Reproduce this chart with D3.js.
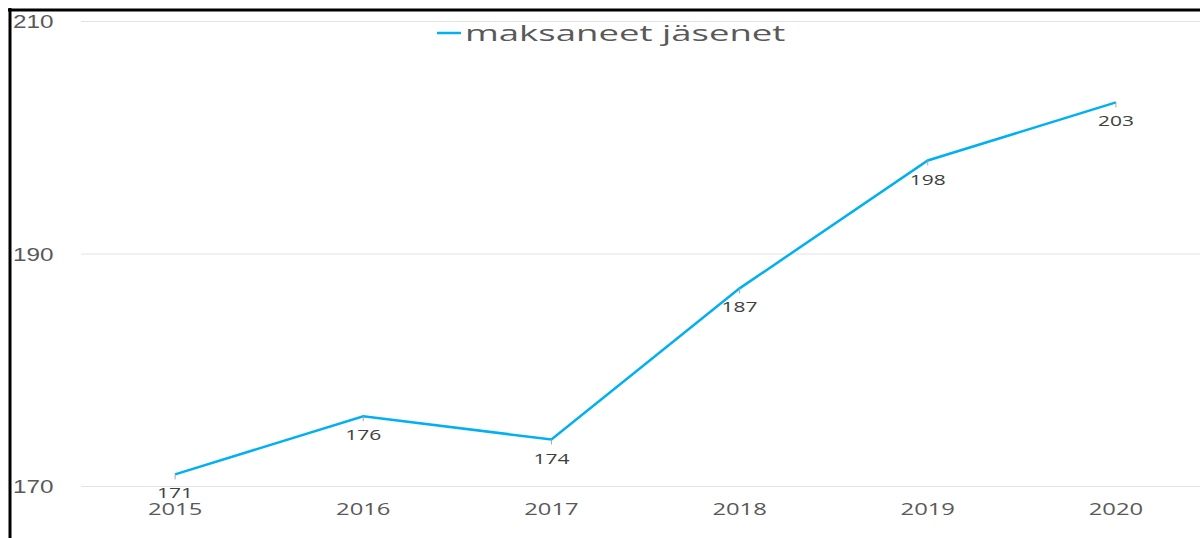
<!DOCTYPE html>
<html>
<head>
<meta charset="utf-8">
<script src="https://cdn.jsdelivr.net/npm/d3@7"></script>
<style>
  body { margin: 0; background: #fff; }
  svg { display: block; font-family: "Open Sans", sans-serif; }
</style>
</head>
<body>
<div id="container"></div>
<script>
var years = ['2015', '2016', '2017', '2018', '2019', '2020'],
    members = [171, 176, 174, 187, 198, 203],
    yTicks = [170, 190, 210],
    seriesName = 'maksaneet jäsenet';

var width = 1200,
    height = 538,
    stretch = 1.4,
    textColor = '#595959',
    lineColor = '#00b0f0';

var svg = d3.select('#container')
    .append('svg')
    .attr('width', width)
    .attr('height', height);

var x = d3.scalePoint()
    .domain(years)
    .range([81, 1210])
    .padding(0.5);

var y = d3.scaleLinear()
    .domain([170, 210])
    .range([486, 21]);

// the original picture is stretched sideways, so stretch the text too
function wide(sel, k) {
    sel.attr('transform', function() {
        var t = d3.select(this);
        return 'translate(' + t.attr('data-x') + ',' + t.attr('data-y') + ') scale(' + (k || stretch) + ',1)';
    });
}

// gridlines
var yAxis = svg.append('g')
    .attr('transform', 'translate(' + width + ',0)')
    .call(d3.axisLeft(y).tickValues(yTicks).tickSize(width - 81).tickFormat(d3.format('d')));
yAxis.select('.domain').remove();
yAxis.selectAll('.tick line').attr('stroke', '#e3e3e3').attr('stroke-width', 1);
yAxis.selectAll('.tick text')
    .attr('x', 0).attr('dy', null)
    .attr('data-x', 13 - width).attr('data-y', 6.5)
    .attr('text-anchor', 'start')
    .attr('fill', textColor)
    .style('font-size', '18px')
    .call(wide, 1.35);

// x labels
svg.append('g').selectAll('text')
    .data(years)
    .enter()
    .append('text')
    .attr('data-x', function(d) { return x(d); })
    .attr('data-y', 515)
    .attr('text-anchor', 'middle')
    .attr('fill', textColor)
    .style('font-size', '17px')
    .text(function(d) { return d; })
    .call(wide, 1.4);

// line
var line = d3.line()
    .x(function(d, i) { return x(years[i]); })
    .y(function(d) { return y(d); });

svg.append('path')
    .datum(members)
    .attr('d', line)
    .attr('fill', 'none')
    .attr('stroke', lineColor)
    .attr('stroke-width', 2.5);

// small markers
svg.append('g').selectAll('line')
    .data(members)
    .enter()
    .append('line')
    .attr('x1', function(d, i) { return x(years[i]); })
    .attr('x2', function(d, i) { return x(years[i]); })
    .attr('y1', function(d) { return y(d); })
    .attr('y2', function(d) { return y(d) + 5; })
    .attr('stroke', '#a6a6a6')
    .attr('stroke-width', 1);

// data labels
svg.append('g').selectAll('text')
    .data(members)
    .enter()
    .append('text')
    .attr('data-x', function(d, i) { return x(years[i]); })
    .attr('data-y', function(d) { return y(d) + 24; })
    .attr('text-anchor', 'middle')
    .attr('fill', '#404040')
    .style('font-size', '15px')
    .text(function(d) { return d; })
    .call(wide, 1.4);

// legend
svg.append('line')
    .attr('x1', 437).attr('x2', 461)
    .attr('y1', 33).attr('y2', 33)
    .attr('stroke', lineColor)
    .attr('stroke-width', 2.5);
svg.append('text')
    .attr('data-x', 465).attr('data-y', 41)
    .attr('fill', textColor)
    .style('font-size', '21px')
    .text(seriesName)
    .call(wide, 1.74);

// frame
svg.append('line')
    .attr('x1', 8).attr('x2', width)
    .attr('y1', 10).attr('y2', 10)
    .attr('stroke', '#000')
    .attr('stroke-width', 3);
svg.append('line')
    .attr('x1', 10).attr('x2', 10)
    .attr('y1', 8).attr('y2', height)
    .attr('stroke', '#000')
    .attr('stroke-width', 3);
</script>
</body>
</html>
